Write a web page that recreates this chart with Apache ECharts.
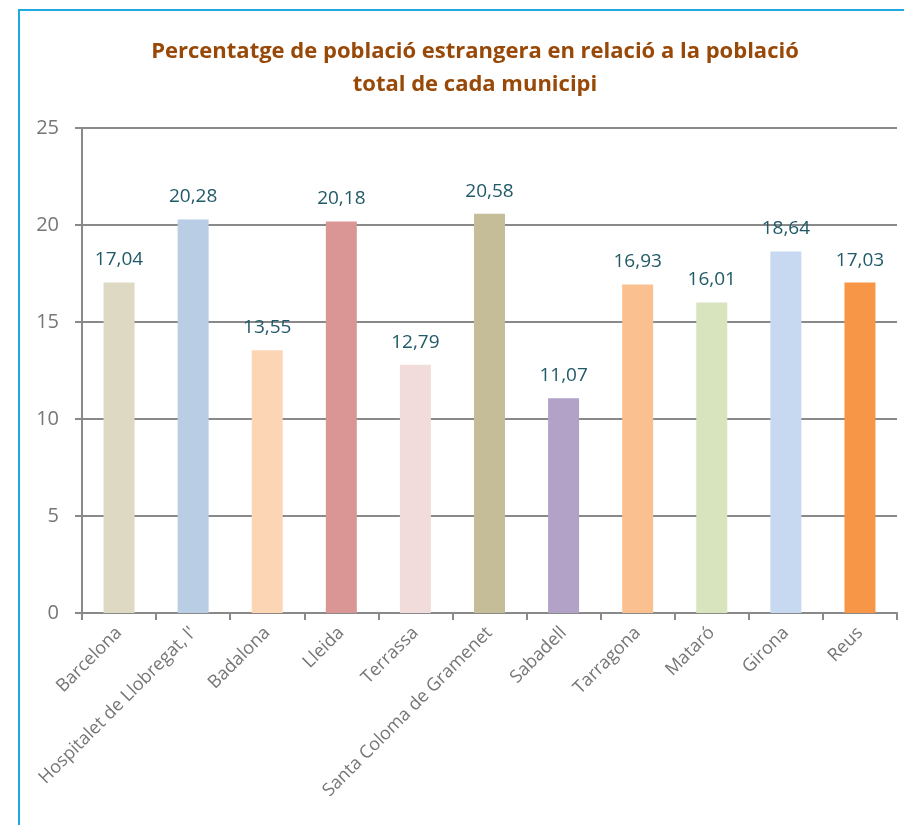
<!DOCTYPE html>
<html>
<head>
<meta charset="utf-8">
<script src="https://cdn.jsdelivr.net/npm/echarts@6/dist/echarts.min.js"></script>
<style>
  html, body { margin: 0; padding: 0; background: #fff; }
  #frame { position: absolute; left: 18px; top: 9px; width: 1000px; height: 1000px;
           border-left: 2px solid #1fa9e0; border-top: 2px solid #1fa9e0; }
  #chart { position: absolute; left: 0; top: 0; width: 904px; height: 825px; }
</style>
</head>
<body>
<div id="frame"></div>
<div id="chart"></div>
<script>
const municipis = ['Barcelona', "Hospitalet de Llobregat, l'", 'Badalona', 'Lleida', 'Terrassa',
  'Santa Coloma de Gramenet', 'Sabadell', 'Tarragona', 'Mataró', 'Girona', 'Reus'];
const percentatges = [17.04, 20.28, 13.55, 20.18, 12.79, 20.58, 11.07, 16.93, 16.01, 18.64, 17.03];
const colors = ['#ddd9c3', '#b9cde5', '#fcd5b5', '#d99694', '#f2dcdb', '#c4bd97',
  '#b3a2c7', '#fac090', '#d7e4bd', '#c6d9f1', '#f79646'];

const chart = echarts.init(document.getElementById('chart'));
const font = '"Open Sans", sans-serif';

chart.setOption({
  animation: false,
  title: {
    text: 'Percentatge de població estrangera en relació a la població\ntotal de cada municipi',
    left: 470,
    top: 30,
    textAlign: 'center',
    textStyle: { color: '#984807', fontSize: 22, fontWeight: 'bold', fontFamily: font, lineHeight: 33 }
  },
  grid: { left: 82, right: 7, top: 128, bottom: 212 },
  xAxis: {
    type: 'category',
    data: municipis,
    axisLine: { lineStyle: { color: '#898989', width: 2 } },
    axisTick: { show: true, length: 7, lineStyle: { color: '#898989', width: 2 } },
    axisLabel: { rotate: 45, color: '#767676', fontSize: 18, fontFamily: font, margin: 17, interval: 0 }
  },
  yAxis: {
    type: 'value',
    min: 0,
    max: 25,
    interval: 5,
    axisLine: { show: true, lineStyle: { color: '#898989', width: 2 } },
    axisTick: { show: true, length: 7, lineStyle: { color: '#898989', width: 2 } },
    splitLine: { lineStyle: { color: '#898989', width: 2 } },
    axisLabel: { color: '#767676', fontSize: 20, fontFamily: font, margin: 23 }
  },
  series: [{
    type: 'bar',
    data: percentatges.map((v, i) => ({ value: v, itemStyle: { color: colors[i] } })),
    barWidth: 31,
    label: {
      show: true,
      position: 'top',
      distance: 13,
      color: '#215a68',
      fontSize: 19,
      fontFamily: font,
      formatter: p => p.value.toFixed(2).replace('.', ',')
    }
  }]
});
</script>
</body>
</html>
